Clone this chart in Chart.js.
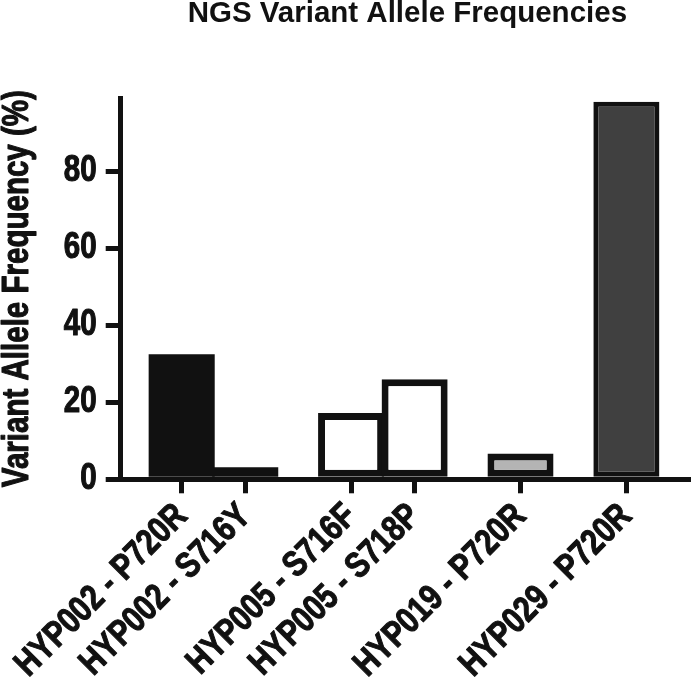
<!DOCTYPE html>
<html><head><meta charset="utf-8">
<script src="https://cdn.jsdelivr.net/npm/chart.js@4/dist/chart.umd.min.js"></script>
<style>
html,body{margin:0;padding:0;background:#fff;}
canvas{display:block;}
</style></head>
<body>
<canvas id="c" width="691" height="687"></canvas>
<script>
const chartTitle = 'NGS Variant Allele Frequencies';
const yAxisTitle = 'Variant Allele Frequency (%)';
const patients = ['HYP002', 'HYP002', 'HYP005', 'HYP005', 'HYP019', 'HYP029'];
const variants = ['P720R', 'S716Y', 'S716F', 'S718P', 'P720R', 'P720R'];
const vafValues = [32.5, 3.1, 17.2, 26.0, 6.7, 98.0];
const yTickValues = [0, 20, 40, 60, 80];
const barFills = ['#111111', '#111111', '#ffffff', '#ffffff', '#b4b4b4', '#404040'];
const barBorders = [0, 0, 7, 7, 7, 5];

const categories = patients.map((p, i) => p + ' - ' + variants[i]);
const GROUP_GAP = 2 / 3;
const xPositions = [];
patients.forEach((p, i) => {
  if (i === 0) xPositions.push(0);
  else xPositions.push(xPositions[i - 1] + (p === patients[i - 1] ? 1 : 1 + GROUP_GAP));
});

// condensed, heavy rendering of axis text, like Arial Narrow Bold
const CONDENSE = 0.82;
const origFill = CanvasRenderingContext2D.prototype.fillText;
const origStroke = CanvasRenderingContext2D.prototype.strokeText;
CanvasRenderingContext2D.prototype.fillText = function (t, x, y, mw) {
  this.save();
  this.translate(x, y);
  this.scale(CONDENSE, 1);
  this.strokeStyle = this.fillStyle;
  this.lineWidth = 1.1;
  this.lineJoin = 'round';
  if (mw === undefined) { origFill.call(this, t, 0, 0); origStroke.call(this, t, 0, 0); }
  else { origFill.call(this, t, 0, 0, mw / CONDENSE); origStroke.call(this, t, 0, 0, mw / CONDENSE); }
  this.restore();
};

const FONT = '"Liberation Sans",Arial,sans-serif';
const INK = '#111111';

// chart title centred over the plot area
const titlePlugin = {
  id: 'topTitle',
  afterDraw(chart) {
    const ctx = chart.ctx;
    const a = chart.chartArea;
    ctx.save();
    ctx.font = 'bold 29.5px ' + FONT;
    ctx.fillStyle = INK;
    ctx.textAlign = 'center';
    ctx.textBaseline = 'alphabetic';
    origFill.call(ctx, chartTitle, (a.left + a.right) / 2 + 3, 22);
    ctx.restore();
  }
};

new Chart(document.getElementById('c'), {
  type: 'bar',
  plugins: [titlePlugin],
  data: {
    datasets: [{
      data: xPositions.map((x, i) => ({ x: x, y: vafValues[i] })),
      backgroundColor: barFills,
      borderColor: INK,
      borderWidth: barBorders,
      borderSkipped: false,
      barPercentage: 1.04,
      categoryPercentage: 1.0
    }]
  },
  options: {
    responsive: false,
    devicePixelRatio: 1,
    animation: false,
    layout: { padding: { top: 98, right: 3, left: 0, bottom: 0 } },
    plugins: { legend: { display: false }, tooltip: { enabled: false }, title: { display: false } },
    scales: {
      x: {
        type: 'linear',
        offset: false,
        min: xPositions[0] - 0.96,
        max: xPositions[xPositions.length - 1] + 0.97,
        afterBuildTicks: (s) => { s.ticks = xPositions.map(v => ({ value: v })); },
        afterFit: (s) => { s.height = 207.7; s.paddingLeft = 0; s.paddingRight = 0; },
        grid: { display: true, offset: false, drawOnChartArea: false, drawTicks: true, tickLength: 14, lineWidth: 5, color: INK },
        border: { display: true, width: 5, color: INK },
        ticks: {
          autoSkip: false, maxRotation: 45, minRotation: 45, padding: 2,
          color: INK,
          font: { family: FONT, size: 36, weight: 'bold' },
          callback: (v, i) => categories[i]
        }
      },
      y: {
        min: 0,
        max: 99,
        afterBuildTicks: (s) => { s.ticks = yTickValues.map(v => ({ value: v })); },
        afterFit: (s) => { s.width = 120.7; s.paddingTop = 0; s.paddingBottom = 0; },
        grid: { display: true, drawOnChartArea: false, drawTicks: true, tickLength: 15, lineWidth: 5, color: INK },
        border: { display: true, width: 5, color: INK },
        ticks: { padding: 9, color: INK, font: { family: FONT, size: 36, weight: 'bold' } },
        title: { display: true, text: yAxisTitle, color: INK, padding: 0, font: { family: FONT, size: 36, weight: 'bold', lineHeight: 1 } }
      }
    }
  }
});
</script>
</body></html>
